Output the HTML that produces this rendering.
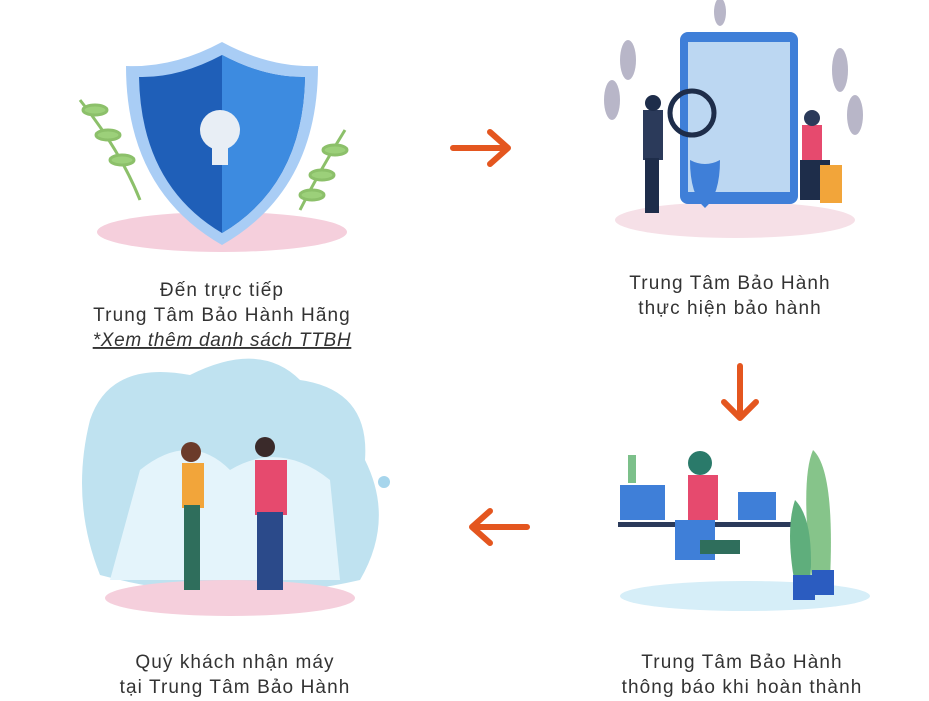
<!DOCTYPE html>
<html><head><meta charset="utf-8"><style>
html,body{margin:0;padding:0;background:#fff;width:929px;height:701px;overflow:hidden}
svg{display:block}
text{font-family:"Liberation Sans",sans-serif;fill:#333;font-size:19px;letter-spacing:1.1px;text-anchor:middle}
</style></head><body>
<svg width="929" height="701" viewBox="0 0 929 701">
<!-- Top-left shield -->
<ellipse cx="222" cy="232" rx="125" ry="20" fill="#f5cfdc"/>
<g stroke="#8cc06a" stroke-width="3" fill="#9cd07a">
<path d="M80 100 Q120 150 140 200" fill="none"/>
<ellipse cx="95" cy="110" rx="12" ry="5"/><ellipse cx="108" cy="135" rx="12" ry="5"/><ellipse cx="122" cy="160" rx="12" ry="5"/>
<path d="M345 130 Q320 170 300 210" fill="none"/>
<ellipse cx="335" cy="150" rx="12" ry="5"/><ellipse cx="322" cy="175" rx="12" ry="5"/><ellipse cx="312" cy="195" rx="12" ry="5"/>
</g>
<path d="M222 42 Q270 68 318 66 Q318 190 222 245 Q126 190 126 66 Q174 68 222 42Z" fill="#a9cdf5"/>
<path d="M222 55 Q265 78 305 77 Q303 185 222 233 Q141 185 139 77 Q179 78 222 55Z" fill="#1f5fb8"/>
<path d="M222 55 Q265 78 305 77 Q303 185 222 233Z" fill="#3d8be0"/>
<circle cx="220" cy="130" r="20" fill="#e8eef5"/>
<rect x="212" y="145" width="16" height="20" fill="#e8eef5"/>
<!-- arrows -->
<g stroke="#e4561f" stroke-width="6" fill="none" stroke-linecap="round" stroke-linejoin="round">
<path d="M453 148 H508 M490 132 L508 148 L490 164"/>
<path d="M740 366 V418 M724 402 L740 418 L756 402"/>
<path d="M527 527 H472 M490 511 L472 527 L490 543"/>
</g>
<!-- Top-right -->
<ellipse cx="735" cy="220" rx="120" ry="18" fill="#f6e0e7"/>
<g fill="#b8b6c8"><ellipse cx="628" cy="60" rx="8" ry="20"/><ellipse cx="612" cy="100" rx="8" ry="20"/><ellipse cx="840" cy="70" rx="8" ry="22"/><ellipse cx="855" cy="115" rx="8" ry="20"/><ellipse cx="720" cy="12" rx="6" ry="14"/></g>
<rect x="680" y="32" width="118" height="172" rx="8" fill="#3f7fd8"/>
<rect x="688" y="42" width="102" height="150" fill="#bcd7f2"/>
<circle cx="692" cy="113" r="22" fill="none" stroke="#1e2d4a" stroke-width="5"/>
<path d="M690 160 Q705 168 720 160 Q720 195 705 208 Q690 195 690 160Z" fill="#3f7fd8"/>
<rect x="643" y="110" width="20" height="50" fill="#2b3a5a"/><rect x="645" y="158" width="14" height="55" fill="#1e2d4a"/>
<circle cx="653" cy="103" r="8" fill="#1e2d4a"/>
<rect x="802" y="125" width="20" height="35" fill="#e64a6e"/><circle cx="812" cy="118" r="8" fill="#2b3a5a"/>
<rect x="800" y="160" width="30" height="40" fill="#1e2d4a"/><rect x="820" y="165" width="22" height="38" fill="#f2a53a"/>
<!-- Bottom-left -->
<path d="M90 420 Q110 360 190 375 Q260 340 300 380 Q370 390 365 460 Q395 520 360 580 Q230 610 100 575 Q70 500 90 420Z" fill="#bfe2f0"/>
<path d="M140 470 Q190 430 230 470 Q280 440 330 480 L340 580 L110 580Z" fill="#e4f4fb"/>
<circle cx="384" cy="482" r="6" fill="#a6d5ec"/>
<ellipse cx="230" cy="598" rx="125" ry="18" fill="#f5cfdc"/>
<circle cx="191" cy="452" r="10" fill="#6b3b2a"/><rect x="182" y="463" width="22" height="45" fill="#f2a53a"/><rect x="184" y="505" width="16" height="85" fill="#2f6e5c"/>
<circle cx="265" cy="447" r="10" fill="#3a2a2a"/><rect x="255" y="460" width="32" height="55" fill="#e64a6e"/><rect x="257" y="512" width="26" height="78" fill="#2b4a8a"/>
<!-- Bottom-right -->
<ellipse cx="745" cy="596" rx="125" ry="15" fill="#d6eef8"/>
<rect x="618" y="522" width="175" height="5" fill="#2b3a5a"/>
<rect x="620" y="485" width="45" height="35" fill="#3f7fd8"/>
<rect x="628" y="455" width="8" height="28" fill="#7cc08a"/>
<path d="M813 450 Q835 470 830 580 L812 580 Q800 480 813 450Z" fill="#86c48a"/>
<path d="M795 500 Q815 520 810 585 L795 585 Q785 530 795 500Z" fill="#5fae7c"/>
<rect x="793" y="575" width="22" height="25" fill="#2b5cc0"/><rect x="812" y="570" width="22" height="25" fill="#2b5cc0"/>
<rect x="738" y="492" width="38" height="28" fill="#3f7fd8"/>
<circle cx="700" cy="463" r="12" fill="#2a7a6a"/><rect x="688" y="475" width="30" height="45" fill="#e64a6e"/>
<rect x="675" y="520" width="40" height="40" fill="#3f7fd8"/><rect x="700" y="540" width="40" height="14" fill="#2f6e5c"/>
<!-- Text -->
<text x="222" y="296">Đến trực tiếp</text>
<text x="222" y="321">Trung Tâm Bảo Hành Hãng</text>
<text x="222" y="346" font-style="italic" font-size="16" style="letter-spacing:0.7px" text-decoration="underline">*Xem thêm danh sách TTBH</text>
<text x="730" y="289">Trung Tâm Bảo Hành</text>
<text x="730" y="314">thực hiện bảo hành</text>
<text x="235" y="668">Quý khách nhận máy</text>
<text x="235" y="693">tại Trung Tâm Bảo Hành</text>
<text x="742" y="668">Trung Tâm Bảo Hành</text>
<text x="742" y="693">thông báo khi hoàn thành</text>
</svg>
</body></html>
